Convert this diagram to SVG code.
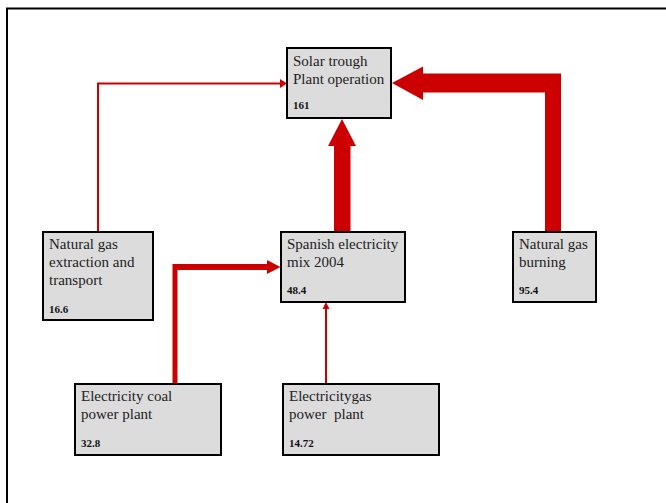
<svg xmlns="http://www.w3.org/2000/svg" width="666" height="503" viewBox="0 0 666 503">
<style>
.box{fill:#dcdcdc;stroke:#000;stroke-width:2}
.t{font-family:'Liberation Serif','Times New Roman',Times,serif;font-size:15px;fill:#222}
.n{font-family:'Liberation Serif','Times New Roman',Times,serif;font-size:11px;font-weight:bold;fill:#111}
.thin{fill:none;stroke:#cc0000;stroke-width:2}
.red{fill:#cc0000}
</style>
<rect width="666" height="503" fill="#fff"/>
<path d="M7 503 V8.5 H666" fill="none" stroke="#000" stroke-width="2"/>
<g id="connectors">
<path class="thin" d="M98 232 V83.5 H282"/>
<path class="red" d="M287 83.5 L280 79 L280 88 Z"/>
<path class="red" d="M392 83 L423 66.5 L423 73.5 L561 73.5 L561 232 L545 232 L545 92.5 L423 92.5 L423 100 Z"/>
<path class="red" d="M342 119 L356 146 L350.5 146 L350.5 232 L334 232 L334 146 L328 146 Z"/>
<path class="red" d="M280.5 267 L267 260 L267 264 L172.5 264 L172.5 384 L177.5 384 L177.5 270 L267 270 L267 274 Z"/>
<path class="thin" d="M326 384 V308"/>
<path class="red" d="M326 302 L322.5 309 L329.5 309 Z"/>
</g>
<g id="solar">
<rect class="box" x="287" y="48" width="104" height="70"/>
<text class="t" x="293" y="66" font-family="Liberation Serif">Solar trough</text>
<text class="t" x="293" y="84" font-family="Liberation Serif">Plant operation</text>
<text class="n" x="293" y="109">161</text>
</g>
<g id="ngextraction">
<rect class="box" x="43" y="232" width="110" height="88"/>
<text class="t" x="49" y="249">Natural gas</text>
<text class="t" x="49" y="267">extraction and</text>
<text class="t" x="49" y="285">transport</text>
<text class="n" x="49" y="313">16.6</text>
</g>
<g id="spanish">
<rect class="box" x="281" y="232" width="124" height="70"/>
<text class="t" x="287" y="249">Spanish electricity</text>
<text class="t" x="287" y="267">mix 2004</text>
<text class="n" x="287" y="294">48.4</text>
</g>
<g id="ngburning">
<rect class="box" x="513" y="232" width="83" height="70"/>
<text class="t" x="519" y="249">Natural gas</text>
<text class="t" x="519" y="267">burning</text>
<text class="n" x="519" y="294">95.4</text>
</g>
<g id="coal">
<rect class="box" x="75" y="384" width="146" height="71"/>
<text class="t" x="81" y="401">Electricity coal</text>
<text class="t" x="81" y="419">power plant</text>
<text class="n" x="81" y="447">32.8</text>
</g>
<g id="gas">
<rect class="box" x="283" y="384" width="156" height="71"/>
<text class="t" x="289" y="401">Electricitygas</text>
<text class="t" x="289" y="419" xml:space="preserve">power  plant</text>
<text class="n" x="289" y="447">14.72</text>
</g>
</svg>
